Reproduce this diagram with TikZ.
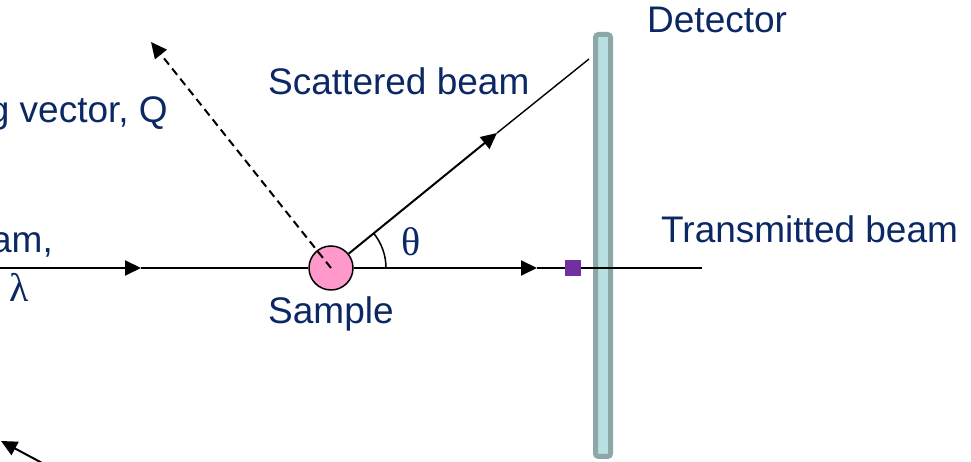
\documentclass[tikz,border=0pt]{standalone}
\usepackage{fontspec}
\setmainfont{Liberation Sans}
\newfontfamily\grk{Liberation Serif}
\usetikzlibrary{arrows.meta,calc}
\definecolor{txt}{RGB}{12,40,100}
\definecolor{detb}{RGB}{139,167,168}
\definecolor{detf}{RGB}{184,224,226}
\definecolor{pinkf}{RGB}{255,153,204}
\definecolor{purp}{RGB}{112,48,160}
\begin{document}
\begin{tikzpicture}[x=1pt,y=1pt,
  lbl/.style={text=txt,font=\fontsize{37}{42}\selectfont,inner sep=0pt},
  glbl/.style={text=txt,font=\grk\fontsize{40}{44}\selectfont,inner sep=0pt},
  beam/.style={line width=2pt,black},
  thinbeam/.style={line width=1.4pt,black},
  tip/.style={-{Triangle[length=16pt,width=15pt]}}]
\useasboundingbox (0,0) rectangle (971,462);
% detector
\node[draw=detb, fill=detf, line width=5pt, rounded corners=3pt,
      minimum width=15pt, minimum height=422pt, inner sep=0pt] (det) at (603,216.5) {};
% sample
\node[circle, draw=black, line width=1.5pt, fill=pinkf, minimum size=44pt, inner sep=0pt] (s) at (331,194) {};
% coordinates
\coordinate (in) at (0,194);
\coordinate (a1) at (141,194);
\coordinate (a2) at (497,329);
\coordinate (sc) at (589,403);
\coordinate (a3) at (537,194);
\coordinate (te) at (702,194);
\coordinate (q) at (151,420);
\coordinate (b1) at (44,-2);
\coordinate (b2) at (1,21);
% incident beam
\draw[beam,tip] (in) -- (a1);
\draw[beam] (a1) -- (s.west);
% scattered beam
\draw[beam,tip] (s.39) -- (a2);
\draw[thinbeam] (a2) -- (sc);
% transmitted beam
\draw[beam,tip] (s.east) -- (a3);
\draw[thinbeam] (a3) -- (te);
\node[fill=purp, minimum size=16pt, inner sep=0pt] (beamstop) at (573,194) {};
% scattering vector
\draw[beam,dash pattern=on 8pt off 5pt,tip] (s.center) -- (q);
% angle
\draw[line width=1.5pt] ($(s.center)+(55,0)$) arc[start angle=0,end angle=39,radius=55];
% bottom-left arrow
\draw[beam,tip] (b1) -- (b2);
% labels
\node[lbl, anchor=base east] (lq) at (168,339) {g vector, Q};
\node[lbl, anchor=base west] (lsc) at (268,367) {Scattered beam};
\node[lbl, anchor=base west] (ldet) at (647,429) {Detector};
\node[lbl, anchor=base west] (ltr) at (661,219) {Transmitted beam};
\node[lbl, anchor=base west] (lsa) at (268,138) {Sample};
\node[lbl, anchor=base east] (lin) at (53,209) {am,};
\node[glbl, anchor=base] (llam) at (19,160) {λ};
\node[glbl, anchor=base] (lth) at (411,206) {θ};
\end{tikzpicture}
\end{document}
